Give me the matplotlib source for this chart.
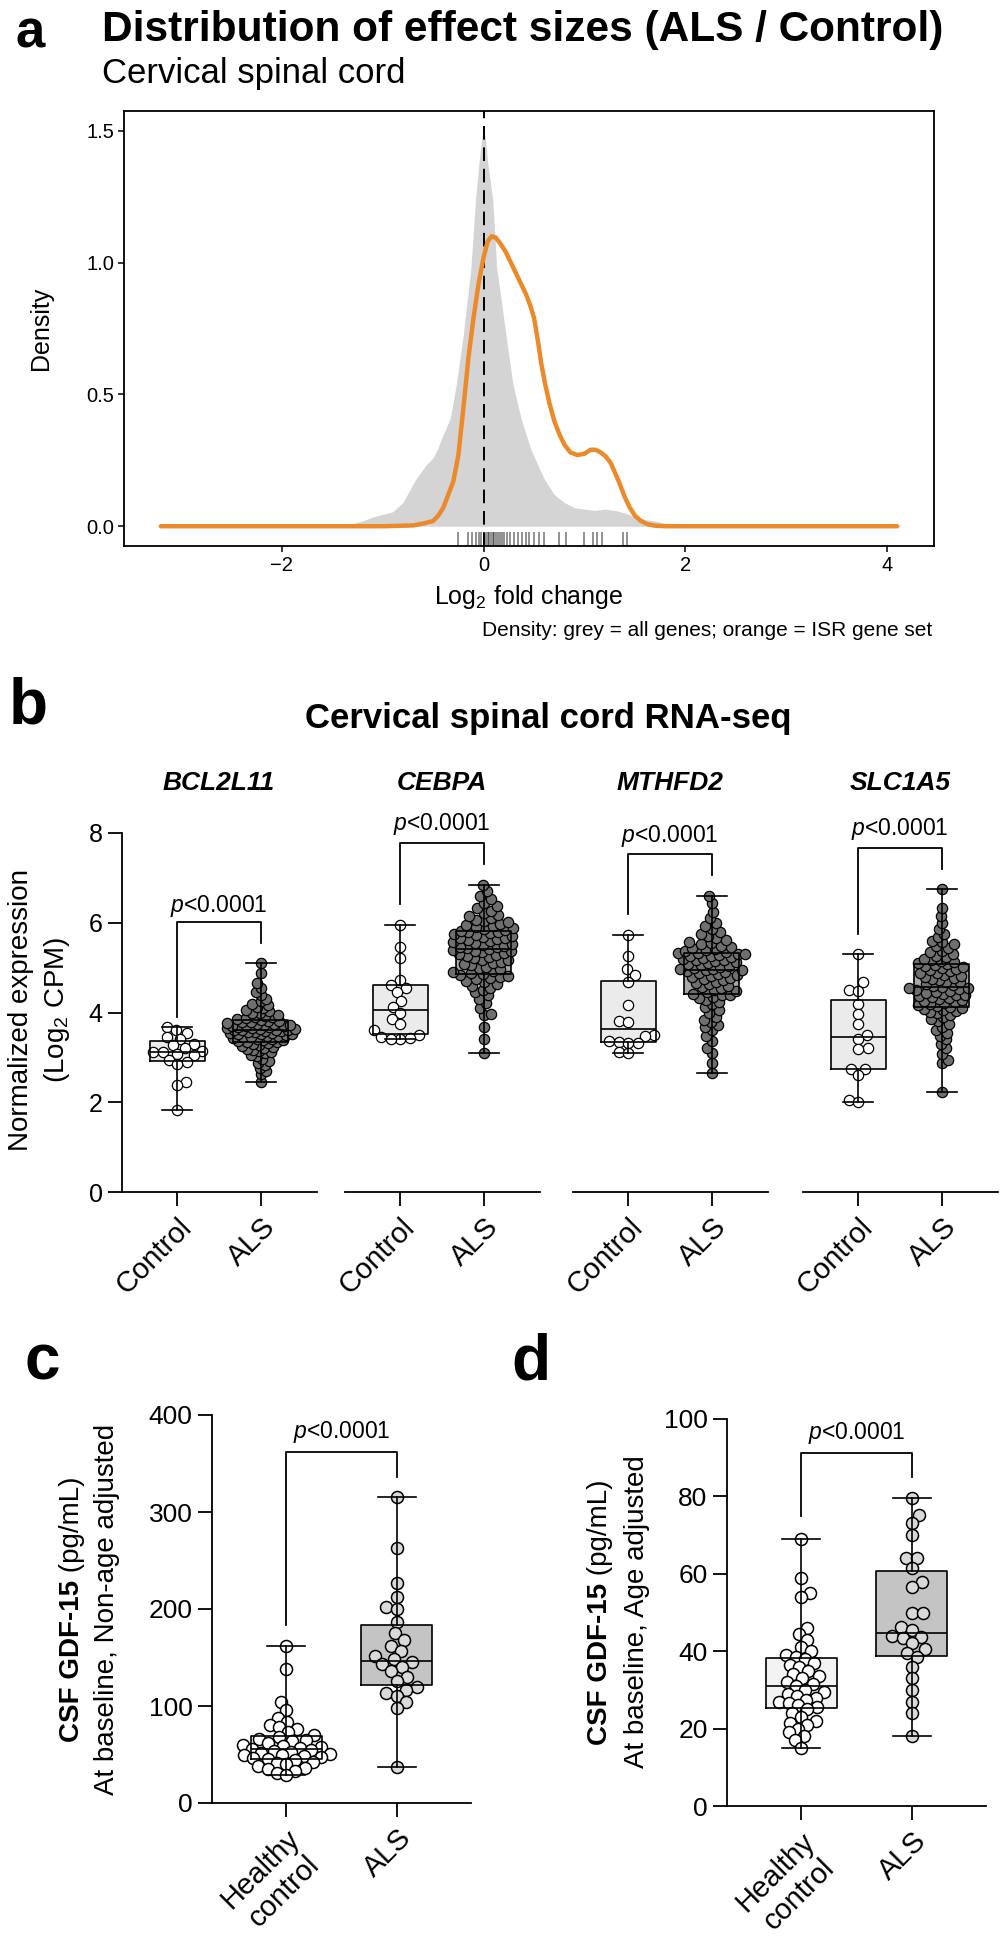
import numpy as np
import matplotlib
matplotlib.use("Agg")
import matplotlib.pyplot as plt

plt.rcParams.update({
    "font.family": ["Liberation Sans", "DejaVu Sans"],
    "mathtext.fontset": "custom",
    "mathtext.rm": "Liberation Sans",
    "mathtext.it": "Liberation Sans:italic",
    "mathtext.bf": "Liberation Sans:bold",
    "axes.unicode_minus": True,
})

# ---------------- data ----------------
# panel a: density curves
grey_x = [-3.2, -1.5, -1.3, -1.2, -1.1, -1.0, -0.9, -0.8, -0.67, -0.575, -0.5, -0.46, -0.42,
          -0.33, -0.27, -0.2, -0.126, -0.08, -0.04, -0.015, 0.0, 0.015, 0.04, 0.09, 0.13,
          0.22, 0.29, 0.37, 0.47, 0.54, 0.60, 0.7, 0.8, 0.9, 1.0, 1.1, 1.2, 1.3, 1.4, 1.5,
          1.6, 1.7, 1.8, 2.0, 4.1]
grey_y = [0.0, 0.0, 0.01, 0.02, 0.035, 0.045, 0.055, 0.09, 0.18, 0.23, 0.26, 0.29, 0.33,
          0.41, 0.54, 0.73, 0.98, 1.24, 1.40, 1.48, 1.50, 1.48, 1.38, 1.24, 0.98,
          0.73, 0.54, 0.41, 0.29, 0.23, 0.18, 0.12, 0.09, 0.07, 0.065, 0.06, 0.065, 0.06, 0.05, 0.035,
          0.025, 0.02, 0.01, 0.0, 0.0]
orange_x = [-3.2, -1.0, -0.7, -0.6, -0.5, -0.45, -0.4, -0.35, -0.3, -0.25, -0.2, -0.15, -0.1,
            -0.05, 0.0, 0.04, 0.08, 0.12, 0.17, 0.22, 0.27, 0.32, 0.37, 0.42, 0.46, 0.50,
            0.54, 0.57, 0.61, 0.65, 0.70, 0.75, 0.80, 0.86, 0.93, 1.0, 1.06, 1.11, 1.16,
            1.21, 1.26, 1.30, 1.34, 1.40, 1.45, 1.50, 1.56, 1.62, 1.70, 1.8, 4.1]
orange_y = [0.0, 0.0, 0.003, 0.01, 0.02, 0.04, 0.07, 0.12, 0.17, 0.27, 0.45, 0.64, 0.79,
            0.92, 1.02, 1.08, 1.10, 1.095, 1.07, 1.04, 1.00, 0.96, 0.92, 0.88, 0.84, 0.79,
            0.70, 0.62, 0.54, 0.47, 0.40, 0.35, 0.31, 0.28, 0.27, 0.275, 0.29, 0.29, 0.28,
            0.265, 0.24, 0.205, 0.17, 0.11, 0.07, 0.04, 0.02, 0.008, 0.002, 0.0, 0.0]
isr_rug = [-0.25, -0.15, -0.12, -0.08, -0.05, -0.03, 0.0, 0.02, 0.04, 0.05, 0.07, 0.09, 0.10,
           0.12, 0.14, 0.16, 0.18, 0.20, 0.23, 0.26, 0.30, 0.34, 0.38, 0.42, 0.45, 0.50,
           0.55, 0.60, 0.75, 0.82, 1.00, 1.08, 1.12, 1.17, 1.38, 1.42]

# panel b: RNA-seq normalized expression (log2 CPM)
genes = ["BCL2L11", "CEBPA", "MTHFD2", "SLC1A5"]
groups_b = ["Control", "ALS"]
bcl_ctrl = [3.67, 3.62, 3.55, 3.45, 3.42, 3.30, 3.27, 3.20, 3.15, 3.13, 3.12, 3.08, 3.05,
            2.95, 2.90, 2.85, 2.45, 2.38, 1.83]
bcl_als = [2.45, 2.62, 2.70, 2.76, 2.83, 2.88, 2.93, 2.97, 3.02, 3.05, 3.09, 3.12, 3.14, 3.17,
           3.19, 3.22, 3.24, 3.26, 3.28, 3.30, 3.32, 3.34,
           3.35, 3.36, 3.38, 3.39, 3.41, 3.42, 3.43, 3.45, 3.46, 3.47, 3.48, 3.50, 3.51, 3.52,
           3.53, 3.54, 3.55, 3.56, 3.57, 3.58, 3.59, 3.60,
           3.60, 3.61, 3.62, 3.63, 3.64, 3.65, 3.66, 3.67, 3.68, 3.69, 3.70, 3.71, 3.72, 3.73,
           3.74, 3.75, 3.77, 3.78, 3.79, 3.81, 3.82, 3.84,
           3.85, 3.87, 3.89, 3.91, 3.93, 3.95, 3.98, 4.00, 4.03, 4.06, 4.09, 4.12, 4.16, 4.20,
           4.25, 4.31, 4.38, 4.45, 4.55, 4.66, 4.87, 5.10]
cebpa_ctrl = [5.95, 5.45, 5.22, 4.72, 4.62, 4.55, 4.45, 4.25, 4.13, 4.00, 3.85, 3.75, 3.60,
              3.50, 3.45, 3.43, 3.42, 3.42]
cebpa_als = [3.10, 3.42, 3.67, 3.95, 3.97, 4.10, 4.22, 4.30, 4.38, 4.45, 4.50, 4.55, 4.60, 4.64,
             4.68, 4.71, 4.74, 4.77, 4.79, 4.81, 4.83, 4.85,
             4.87, 4.90, 4.93, 4.96, 4.99, 5.02, 5.05, 5.08, 5.10, 5.13, 5.16, 5.18, 5.21, 5.24,
             5.26, 5.28, 5.30, 5.32, 5.34, 5.36, 5.38, 5.40,
             5.41, 5.43, 5.45, 5.47, 5.49, 5.51, 5.53, 5.55, 5.57, 5.59, 5.61, 5.63, 5.65, 5.67,
             5.69, 5.71, 5.73, 5.75, 5.77, 5.79, 5.80, 5.82,
             5.84, 5.86, 5.88, 5.90, 5.93, 5.95, 5.98, 6.01, 6.04, 6.07, 6.10, 6.14, 6.18, 6.22,
             6.27, 6.32, 6.38, 6.45, 6.52, 6.60, 6.70, 6.85]
mthfd2_ctrl = [5.73, 5.26, 4.97, 4.83, 4.67, 4.16, 3.82, 3.78, 3.50, 3.48, 3.36, 3.35, 3.33,
               3.32, 3.12, 3.10]
mthfd2_als = [2.65, 2.88, 3.10, 3.22, 3.36, 3.47, 3.62, 3.68, 3.72, 3.78, 3.84, 3.90, 3.98, 4.05,
              4.12, 4.18, 4.23, 4.28, 4.32, 4.35, 4.38, 4.40,
              4.42, 4.45, 4.48, 4.51, 4.54, 4.57, 4.60, 4.63, 4.66, 4.69, 4.72, 4.75, 4.77, 4.80,
              4.82, 4.84, 4.86, 4.88, 4.90, 4.92, 4.94, 4.95,
              4.96, 4.98, 5.00, 5.02, 5.04, 5.06, 5.08, 5.10, 5.12, 5.14, 5.16, 5.18, 5.20, 5.22,
              5.24, 5.25, 5.27, 5.28, 5.30, 5.31, 5.32, 5.33,
              5.35, 5.37, 5.39, 5.41, 5.43, 5.46, 5.49, 5.52, 5.55, 5.58, 5.62, 5.66, 5.70, 5.75,
              5.80, 5.86, 5.93, 6.00, 6.10, 6.25, 6.45, 6.60]
slc_ctrl = [5.31, 4.67, 4.50, 4.48, 4.20, 3.97, 3.75, 3.49, 3.42, 3.20, 3.18, 2.75, 2.74, 2.60,
            2.06, 2.00]
slc_als = [2.23, 2.88, 2.95, 3.08, 3.20, 3.30, 3.40, 3.47, 3.55, 3.60, 3.68, 3.74, 3.80, 3.85,
           3.90, 3.94, 3.98, 4.01, 4.04, 4.06, 4.08, 4.10,
           4.12, 4.14, 4.16, 4.18, 4.21, 4.23, 4.25, 4.27, 4.30, 4.32, 4.34, 4.36, 4.38, 4.40,
           4.42, 4.44, 4.46, 4.48, 4.50, 4.52, 4.54, 4.55,
           4.57, 4.59, 4.62, 4.64, 4.67, 4.69, 4.72, 4.74, 4.77, 4.79, 4.82, 4.84, 4.87, 4.89,
           4.92, 4.94, 4.97, 4.99, 5.01, 5.03, 5.05, 5.08,
           5.10, 5.12, 5.14, 5.17, 5.20, 5.23, 5.26, 5.30, 5.34, 5.38, 5.43, 5.48, 5.52, 5.56,
           5.60, 5.68, 5.75, 5.86, 6.00, 6.15, 6.33, 6.75]
b_yticks = [0, 2, 4, 6, 8]

# panel c / d: CSF GDF-15 (pg/mL)
groups_cd = ["Healthy\ncontrol", "ALS"]
c_ctrl = [162, 138, 104, 96, 88, 84, 80, 78, 76, 73, 70, 68, 66, 65, 64, 62, 60, 59, 58, 57,
          56, 55, 54, 53, 52, 51, 50, 49, 48, 47, 46, 45, 44, 42, 41, 40, 38, 36, 35, 33, 31, 29]
c_als = [315, 263, 227, 212, 202, 200, 187, 175, 168, 162, 157, 152, 148, 145, 143, 140, 136,
         130, 126, 120, 117, 113, 110, 104, 98, 37]
d_ctrl = [69, 59, 55, 54, 46, 44.5, 43, 41, 40, 39, 38.5, 38, 37, 36.5, 36, 35, 34, 33.5, 33,
          32, 31.5, 31, 30, 29.5, 29, 28.5, 28, 27.5, 27, 26.5, 26, 25.5, 25, 24, 23, 22,
          21.5, 21, 20, 19, 18, 17, 15]
d_als = [79.6, 75.2, 73.1, 70, 64.1, 64, 61.5, 57.9, 56.6, 49.8, 49.8, 46.3, 45.5, 43.9, 43.7,
         43.5, 42, 40.5, 39.5, 38.5, 36, 33, 30, 27, 24, 18]
c_yticks = [0, 100, 200, 300, 400]
d_yticks = [0, 20, 40, 60, 80, 100]
p_text = r"$p$<0.0001"

# ---------------- layout ----------------
W, H = 1000, 1939
fig = plt.figure(figsize=(W / 100, H / 100), dpi=100)


def rect(x0, y0, x1, y1):
    return [x0 / W, 1 - y1 / H, (x1 - x0) / W, (y1 - y0) / H]


def fxy(px, py):
    return px / W, 1 - py / H


def swarm_offsets(vals, xscale, yscale, dmin, maxoff):
    vals = np.asarray(vals, float)
    order = np.argsort(vals, kind="stable")
    pxs, pys = [], []
    offs = np.zeros(len(vals))
    steps = np.arange(0, maxoff + 0.01, 0.5)
    for k, i in enumerate(order):
        y = vals[i] * yscale
        px = np.array(pxs)
        py = np.array(pys)
        if len(py):
            near = np.abs(py - y) < dmin
            nx, ny = px[near], py[near]
        else:
            nx, ny = np.array([]), np.array([])
        sign = 1 if k % 2 == 0 else -1
        chosen = None
        best, bestd = 0.0, -1.0
        for s in steps:
            cands = (s * sign, -s * sign) if s > 0 else (0.0,)
            for c in cands:
                d = np.inf if len(nx) == 0 else np.min(np.hypot(nx - c, ny - y))
                if d >= dmin:
                    chosen = c
                    break
                if d > bestd:
                    bestd, best = d, c
            if chosen is not None:
                break
        if chosen is None:
            chosen = best
        pxs.append(chosen)
        pys.append(y)
        offs[i] = chosen / xscale
    return offs


def box_and_points(ax, data, fills, pfaces, width, capw, msize, dmins, maxoffs, plw):
    xl = ax.get_xlim()
    yl = ax.get_ylim()
    bb = ax.get_position()
    xscale = bb.width * W / (xl[1] - xl[0])
    yscale = bb.height * H / (yl[1] - yl[0])
    bp = ax.boxplot(data, positions=[0, 1], widths=width, whis=(0, 100), patch_artist=True,
                    showfliers=False, capwidths=capw, zorder=1,
                    boxprops=dict(edgecolor="none"),
                    whiskerprops=dict(alpha=0), capprops=dict(alpha=0),
                    medianprops=dict(alpha=0))
    for p, f in zip(bp["boxes"], fills):
        p.set_facecolor(f)
    for j, vals in enumerate(data):
        off = swarm_offsets(vals, xscale, yscale, dmins[j], maxoffs[j])
        ax.scatter(j + off, vals, s=msize, facecolor=pfaces[j], edgecolor="black",
                   linewidth=plw, zorder=2, clip_on=False)
    lk = dict(color="black", linewidth=1.2)
    ax.boxplot(data, positions=[0, 1], widths=width, whis=(0, 100), patch_artist=False,
               showfliers=False, capwidths=capw, zorder=4,
               boxprops=lk, whiskerprops=lk, capprops=lk, medianprops=lk)


def bracket(ax, left_end, top, right_end, ty, fs):
    ax.plot([0, 0, 1, 1], [left_end, top, top, right_end], color="black", lw=1.3,
            clip_on=False, zorder=5)
    ax.text(0.5, ty, p_text, ha="center", va="center", fontsize=fs, clip_on=False)


# ---------------- panel a ----------------
fig.text(*fxy(30, 47), "a", fontsize=38, fontweight="bold", ha="center", va="baseline")
fig.text(*fxy(102, 41), "Distribution of effect sizes (ALS / Control)", fontsize=30.5,
         fontweight="bold", ha="left", va="baseline")
fig.text(*fxy(102, 83), "Cervical spinal cord", fontsize=25, ha="left", va="baseline")

axa = fig.add_axes(rect(124, 111, 934, 546))
axa.fill_between(grey_x, grey_y, 0, color="#D4D4D4", lw=0, zorder=1)
axa.axvline(0, color="black", lw=1.4, dashes=(7, 4), zorder=2)
axa.plot(orange_x, orange_y, color="#EB8A2B", lw=3.2, zorder=3, solid_capstyle="round")
axa.vlines(isr_rug, -0.075, -0.022, color="black", alpha=0.5, lw=1.2, zorder=2)
axa.set_xlim(-3.565, 4.465)
axa.set_ylim(-0.075, 1.575)
axa.set_xticks([-2, 0, 2, 4])
axa.set_yticks([0.0, 0.5, 1.0, 1.5])
axa.set_yticklabels(["0.0", "0.5", "1.0", "1.5"])
for s in axa.spines.values():
    s.set_linewidth(1.3)
axa.tick_params(length=4, width=1.1, labelsize=14.5, pad=3)
axa.set_ylabel("Density", fontsize=18, labelpad=24)
axa.set_xlabel("Log$_2$ fold change", fontsize=18, labelpad=6)
fig.text(*fxy(932, 636), "Density: grey = all genes; orange = ISR gene set", fontsize=15,
         ha="right", va="baseline")

# ---------------- panel b ----------------
fig.text(*fxy(28, 723), "b", fontsize=46, fontweight="bold", ha="center", va="baseline")
fig.text(*fxy(548, 728), "Cervical spinal cord RNA-seq", fontsize=25, fontweight="bold",
         ha="center", va="baseline")
fig.text(*fxy(40, 1010), "Normalized expression\n(Log$_2$ CPM)", fontsize=20, rotation=90,
         ha="center", va="center", multialignment="center", linespacing=1.4)

b_x0 = [122, 345, 573, 803]
b_ctrl = [bcl_ctrl, cebpa_ctrl, mthfd2_ctrl, slc_ctrl]
b_als = [bcl_als, cebpa_als, mthfd2_als, slc_als]
b_dmin_als = [5.8, 7.5, 7.2, 6.8]
b_brk = [(3.9, 6.02, 5.55, 6.38), (6.42, 7.78, 7.3, 8.2), (6.2, 7.53, 7.07, 7.93),
         (5.76, 7.67, 7.2, 8.09)]
for i in range(4):
    x0 = b_x0[i]
    ax = fig.add_axes(rect(x0, 833, x0 + 195, 1192))
    ax.set_xlim(-0.655, 1.667)
    ax.set_ylim(0, 8)
    box_and_points(ax, [b_ctrl[i], b_als[i]], ["#EBEBEB", "#A9A9A9"], ["white", "#6F6F6F"],
                   0.655, 0.36, 55, [9.5, b_dmin_als[i]], [40, 34], 0.9)
    bracket(ax, *b_brk[i], fs=16.5)
    ax.spines["top"].set_visible(False)
    ax.spines["right"].set_visible(False)
    ax.spines["bottom"].set_linewidth(1.3)
    ax.spines["left"].set_linewidth(1.3)
    ax.set_xticks([0, 1])
    ax.set_xticklabels(groups_b, rotation=45, ha="right", va="top", rotation_mode="anchor",
                       fontsize=21)
    ax.tick_params(axis="x", length=10, width=1.3, pad=5)
    ax.set_yticks(b_yticks)
    if i == 0:
        ax.tick_params(axis="y", length=10, width=1.3, labelsize=18, pad=4)
    else:
        ax.spines["left"].set_visible(False)
        ax.tick_params(axis="y", left=False, labelleft=False)
    fig.text(*fxy(x0 + 97, 790), genes[i], fontsize=19, fontweight="bold", fontstyle="italic",
             ha="center", va="baseline")

# ---------------- panels c, d ----------------
fig.text(*fxy(42, 1380), "c", fontsize=46, fontweight="bold", ha="center", va="baseline")
fig.text(*fxy(531, 1380), "d", fontsize=46, fontweight="bold", ha="center", va="baseline")

renderer = fig.canvas.get_renderer()


def two_part_label(xpx, ycpx, bold, reg, fs):
    t1 = fig.text(0, 0, bold, rotation=90, fontsize=fs, fontweight="bold",
                  ha="center", va="bottom")
    t2 = fig.text(0, 0, reg, rotation=90, fontsize=fs, ha="center", va="bottom")
    h1 = t1.get_window_extent(renderer).height
    h2 = t2.get_window_extent(renderer).height
    ystart = (H - ycpx) - (h1 + h2) / 2
    t1.set_position((xpx / W, ystart / H))
    t2.set_position((xpx / W, (ystart + h1) / H))


panels_cd = [
    dict(rect=(212, 1415, 471, 1803), ctrl=c_ctrl, als=c_als, ylim=(0, 400), yt=c_yticks,
         brk=(183, 362, 336, 382), lab=(72, 107, 1609), line2="At baseline, Non-age adjusted"),
    dict(rect=(727, 1419, 986, 1806), ctrl=d_ctrl, als=d_als, ylim=(0, 100), yt=d_yticks,
         brk=(75, 91.2, 85, 96.4), lab=(600, 637, 1612), line2="At baseline, Age adjusted"),
]
for P in panels_cd:
    ax = fig.add_axes(rect(*P["rect"]))
    ax.set_xlim(-0.667, 1.667)
    ax.set_ylim(*P["ylim"])
    box_and_points(ax, [P["ctrl"], P["als"]], ["#F3F3F3", "#C4C4C4"], ["white", "#D9D9D9"],
                   0.64, 0.35, 75, [9.5, 11.0], [45, 45], 1.1)
    bracket(ax, *P["brk"], fs=16.5)
    ax.spines["top"].set_visible(False)
    ax.spines["right"].set_visible(False)
    ax.spines["bottom"].set_linewidth(1.3)
    ax.spines["left"].set_linewidth(1.3)
    ax.set_xticks([0, 1])
    ax.set_xticklabels(groups_cd, rotation=45, ha="right", va="top", rotation_mode="anchor",
                       fontsize=21, multialignment="center")
    ax.tick_params(axis="x", length=10, width=1.3, pad=5)
    ax.set_yticks(P["yt"])
    ax.tick_params(axis="y", length=10, width=1.3, labelsize=19, pad=4)
    x1, x2, yc = P["lab"]
    two_part_label(x1, yc, "CSF GDF-15", " (pg/mL)", 20)
    fig.text(*fxy(x2, yc), P["line2"], rotation=90, fontsize=20, ha="center", va="center")

fig.savefig("out.png", dpi=100)
